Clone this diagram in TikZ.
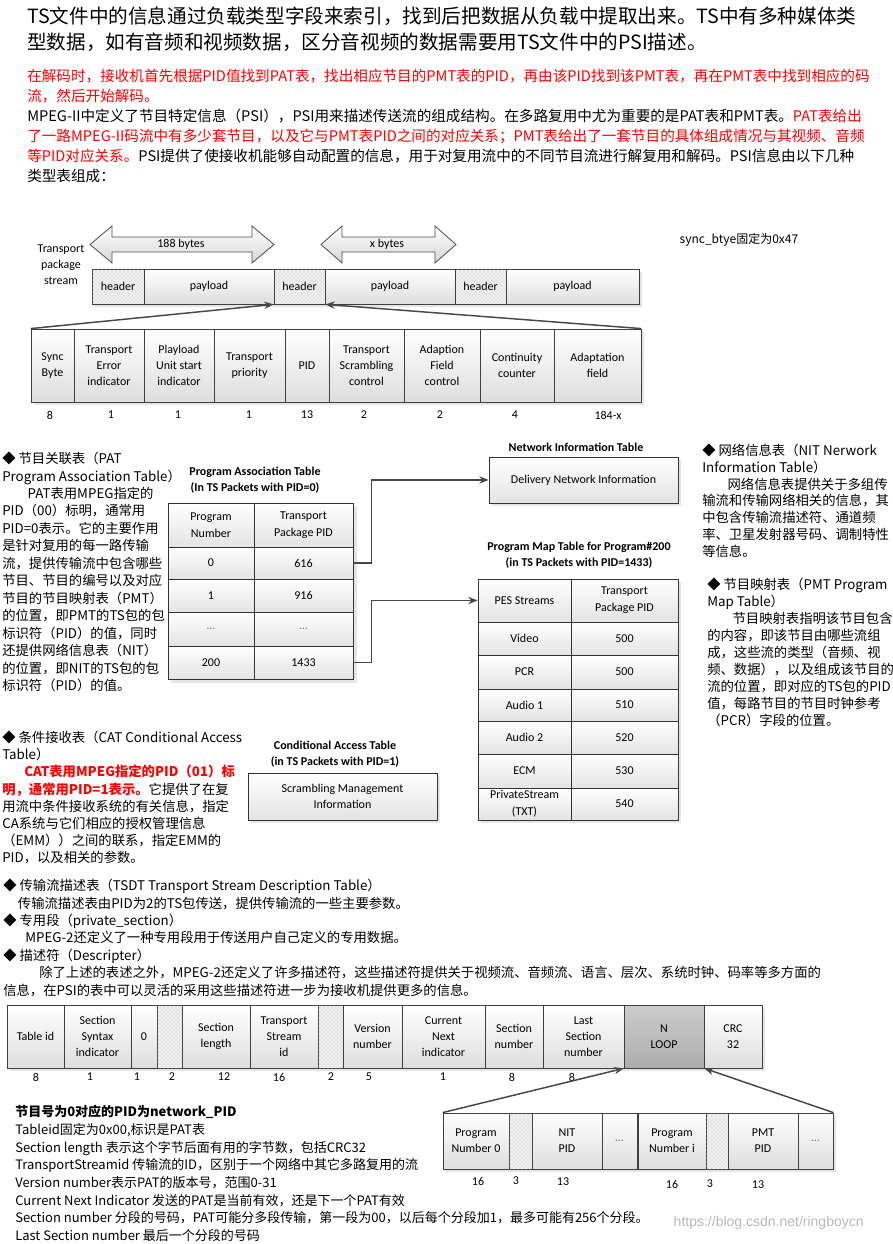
\documentclass[tikz,border=0pt]{standalone}
\usepackage{fontspec}
\setmainfont{Carlito}
\newfontfamily\cjk{Noto Sans CJK SC}
\newfontfamily\markfont{Liberation Sans}
\usetikzlibrary{arrows.meta, patterns}

\newcommand\dotsgray{\textcolor{black!50}{\ldots}}

\tikzset{
    para/.style={anchor=north west, inner sep=0pt, align=left},
    cellbox/.style={draw=black!75, line width=0.6pt, top color=white, bottom color=black!13, align=center, inner sep=1pt, font=\fontsize{9}{12}\selectfont},
    hatchbox/.style={draw=black!75, line width=0.6pt, fill=black!6, postaction={pattern=crosshatch dots, pattern color=black!28}, align=center, inner sep=1pt, font=\fontsize{9}{12}\selectfont},
    loopbox/.style={cellbox, top color=black!20, bottom color=black!32},
    tabcell/.style={draw=black!80, line width=0.6pt, top color=white, bottom color=black!11, align=center, inner sep=1pt, font=\fontsize{9}{12.5}\selectfont},
    boxtitle/.style={align=center, font=\bfseries\fontsize{9}{12}\selectfont},
    numlabel/.style={font=\fontsize{9}{11}\selectfont},
    shadowc/.style={fill=black!10},
    blockarrow/.style={draw=black!70, line width=0.6pt, top color=white, bottom color=black!16},
    linkarrow/.style={draw=black!72, line width=1.1pt, -{Stealth[length=7pt,width=5.5pt]}}
}

\begin{document}
\begin{tikzpicture}[x=0.75pt, y=-0.75pt]
\useasboundingbox (0,0) rectangle (892,1244);

% intro text
\node[para, font=\cjk\fontsize{14.7}{19.5}\selectfont] (intro) at (27,6.8) {TS文件中的信息通过负载类型字段来索引，找到后把数据从负载中提取出来。TS中有多种媒体类\\型数据，如有音频和视频数据，区分音视频的数据需要用TS文件中的PSI描述。};
\node[para, font=\cjk\fontsize{10.95}{15}\selectfont] (decode) at (27,69.2) {\textcolor{red}{在解码时，接收机首先根据PID值找到PAT表，找出相应节目的PMT表的PID，再由该PID找到该PMT表，再在PMT表中找到相应的码}\\\textcolor{red}{流，然后开始解码。}\\MPEG-II中定义了节目特定信息（PSI），PSI用来描述传送流的组成结构。在多路复用中尤为重要的是PAT表和PMT表。\textcolor{red}{PAT表给出}\\\textcolor{red}{了一路MPEG-II码流中有多少套节目，以及它与PMT表PID之间的对应关系；PMT表给出了一套节目的具体组成情况与其视频、音频}\\\textcolor{red}{等PID对应关系。}PSI提供了使接收机能够自动配置的信息，用于对复用流中的不同节目流进行解复用和解码。PSI信息由以下几种\\类型表组成：};

% transport packet stream
\node[align=center, font=\fontsize{9}{12}\selectfont] (tps) at (61,265) {Transport\\package\\stream};
\draw[blockarrow] (90,244.5) -- (112,226) -- (112,237) -- (252,237) -- (252,226) -- (274,244.5) -- (252,263) -- (252,252) -- (112,252) -- (112,263) -- cycle;
\node[numlabel] (len188) at (181,244) {188 bytes};
\draw[blockarrow] (321,244.5) -- (342,226) -- (342,237) -- (435,237) -- (435,226) -- (456,244.5) -- (435,263) -- (435,252) -- (342,252) -- (342,263) -- cycle;
\node[numlabel] (lenx) at (387,244) {x bytes};
\node[anchor=west, font=\cjk\fontsize{9}{11}\selectfont] (sync) at (675,240) {sync\_btye固定为0x47};

\fill[shadowc] (95,272) rectangle (642,307);
\foreach \xa/\xb/\nm in {92/144/h1, 274/325/h2, 455/506/h3}
    \node[hatchbox, minimum width={(\xb-\xa)*0.75pt}, minimum height=26.25pt] (\nm) at ({(\xa+\xb)/2},286.5) {header};
\foreach \xa/\xb/\nm in {144/274/p1, 325/455/p2, 506/639/p3}
    \node[cellbox, minimum width={(\xb-\xa)*0.75pt}, minimum height=26.25pt] (\nm) at ({(\xa+\xb)/2},286.5) {payload};

\fill[shadowc] (34,332) rectangle (644,405);
\foreach \xa/\xb/\txt [count=\i] in {31/74/{Sync\\Byte}, 74/144/{Transport\\Error\\indicator}, 144/214/{Playload\\Unit start\\indicator}, 214/285/{Transport\\priority}, 285/329/PID, 329/404/{Transport\\Scrambling\\control}, 404/480/{Adaption\\Field\\control}, 480/554/{Continuity\\counter}, 554/641/{Adaptation\\field}}
    \node[cellbox, minimum width={(\xb-\xa)*0.75pt}, minimum height=54.75pt] (f\i) at ({(\xa+\xb)/2},365.5) {\txt};
\foreach \x/\b [count=\i] in {50/8, 111/1, 178/1, 249/1, 307/13, 364/2, 440/2, 515/4, 608/184-x}
    \node[numlabel] (b\i) at (\x,415) {\b};
\draw[linkarrow] (f1.north west) -- (h2.south west);
\draw[linkarrow] (f9.north east) -- (h2.south east);

% PAT
\node[para, font=\cjk\fontsize{10}{13.1}\selectfont] (patdesc) at (2,451.7) {◆ 节目关联表（PAT\\Program Association Table）\\\hspace*{1.9em}PAT表用MPEG指定的\\PID（00）标明，通常用\\PID=0表示。它的主要作用\\是针对复用的每一路传输\\流，提供传输流中包含哪些\\节目、节目的编号以及对应\\节目的节目映射表（PMT）\\的位置，即PMT的TS包的包\\标识符（PID）的值，同时\\还提供网络信息表（NIT）\\的位置，即NIT的TS包的包\\标识符（PID）的值。};
\node[boxtitle] (pattitle) at (255,480) {Program Association Table\\(In TS Packets with PID=0)};
\fill[shadowc] (171,506) rectangle (357,683);
\foreach \ya/\yb/\l/\r [count=\i from 0] in {503/547/{Program\\Number}/{Transport\\Package PID}, 547/579/0/616, 579/612/1/916, 612/646/{\dotsgray}/{\dotsgray}, 646/679/200/1433}{
    \node[tabcell, minimum width=64.5pt, minimum height={(\yb-\ya)*0.75pt}] (patl\i) at (211,{(\ya+\yb)/2}) {\l};
    \node[tabcell, minimum width=74.25pt, minimum height={(\yb-\ya)*0.75pt}] (patr\i) at (303.5,{(\ya+\yb)/2}) {\r};
}

% NIT
\node[boxtitle] (nittitle) at (576,447) {Network Information Table};
\fill[shadowc] (492,460) rectangle (681,506);
\node[tabcell, minimum width=141.75pt, minimum height=34.5pt] (nit) at (583.5,480) {Delivery Network Information};
\node[para, font=\cjk\fontsize{10}{12.6}\selectfont] (nitdesc) at (702,443.7) {◆ 网络信息表（NIT Nerwork\\Information Table）\\\hspace*{1.9em}网络信息表提供关于多组传\\输流和传输网络相关的信息，其\\中包含传输流描述符、通道频\\率、卫星发射器号码、调制特性\\等信息。};

% PMT
\node[boxtitle] (pmttitle) at (579,555) {Program Map Table for Program\#200\\(in TS Packets with PID=1433)};
\fill[shadowc] (481,582) rectangle (681,823);
\foreach \ya/\yb/\l/\r [count=\i from 0] in {579/622/{PES Streams}/{Transport\\Package PID}, 622/655/Video/500, 655/689/PCR/500, 689/721/{Audio 1}/510, 721/754/{Audio 2}/520, 754/788/ECM/530, 788/820/{PrivateStream\\(TXT)}/540}{
    \node[tabcell, minimum width=69.75pt, minimum height={(\yb-\ya)*0.75pt}] (pmtl\i) at (524.5,{(\ya+\yb)/2}) {\l};
    \node[tabcell, minimum width=80.25pt, minimum height={(\yb-\ya)*0.75pt}] (pmtr\i) at (624.5,{(\ya+\yb)/2}) {\r};
}
\node[para, font=\cjk\fontsize{10}{12.7}\selectfont] (pmtdesc) at (707,577.7) {◆ 节目映射表（PMT Program\\Map Table）\\\hspace*{1.9em}节目映射表指明该节目包含\\的内容，即该节目由哪些流组\\成，这些流的类型（音频、视\\频、数据），以及组成该节目的\\流的位置，即对应的TS包的PID\\值，每路节目的节目时钟参考\\（PCR）字段的位置。};

\draw[linkarrow] (patr1.east) -- ++(18,0) |- (nit.west);
\draw[linkarrow] (patr4.east) -- ++(18,0) |- (pmtl0.west);

% CAT
\node[para, font=\cjk\fontsize{10}{12.9}\selectfont] (catdesc) at (2,730.7) {◆ 条件接收表（CAT Conditional Access\\Table）\\\hspace*{1.65em}\textcolor{red}{\bfseries CAT表用MPEG指定的PID（01）标}\\\textcolor{red}{\bfseries 明，通常用PID=1表示。}它提供了在复\\用流中条件接收系统的有关信息，指定\\CA系统与它们相应的授权管理信息\\（EMM））之间的联系，指定EMM的\\PID，以及相关的参数。};
\node[boxtitle] (cattitle) at (335,754) {Conditional Access Table\\(in TS Packets with PID=1)};
\fill[shadowc] (251,776) rectangle (440,823);
\node[tabcell, minimum width=141.75pt, minimum height=35.25pt] (cat) at (342.5,796.5) {Scrambling Management\\Information};

% other tables
\node[para, font=\cjk\fontsize{10}{13.1}\selectfont] (othdesc) at (3,878.7) {◆ 传输流描述表（TSDT Transport Stream Description Table）\\\hspace*{1.1em}传输流描述表由PID为2的TS包传送，提供传输流的一些主要参数。\\◆ 专用段（private\_section）\\\hspace*{1.65em}MPEG-2还定义了一种专用段用于传送用户自己定义的专用数据。\\◆ 描述符（Descripter）\\\hspace*{2.7em}除了上述的表述之外，MPEG-2还定义了许多描述符，这些描述符提供关于视频流、音频流、语言、层次、系统时钟、码率等多方面的\\信息，在PSI的表中可以灵活的采用这些描述符进一步为接收机提供更多的信息。};

% PAT section layout
\fill[shadowc] (10,1008) rectangle (765,1071);
\foreach \xa/\xb/\txt/\nm in {7/64/{Table id}/tid, 64/131/{Section\\Syntax\\indicator}/ssi, 131/157/0/zero, 182/250/{Section\\length}/slen, 250/318/{Transport\\Stream\\id}/tsid, 343/402/{Version\\number}/ver, 402/485/{Current\\Next\\indicator}/cni, 485/543/{Section\\number}/snum, 543/624/{Last\\Section\\number}/lsn, 704/762/{CRC\\32}/crc}
    \node[cellbox, minimum width={(\xb-\xa)*0.75pt}, minimum height=47.25pt] (\nm) at ({(\xa+\xb)/2},1036.5) {\txt};
\foreach \xa/\xb/\nm in {157/182/rsa, 318/343/rsb}
    \node[hatchbox, minimum width={(\xb-\xa)*0.75pt}, minimum height=47.25pt] (\nm) at ({(\xa+\xb)/2},1036.5) {};
\node[loopbox, minimum width=60pt, minimum height=47.25pt] (nloop) at (664,1036.5) {N\\LOOP};
\foreach \x/\b [count=\i] in {36/8, 90/1, 137/1, 172/2, 224/12, 279/16, 331/2, 369/5, 443/1, 512/8, 572/8}
    \node[numlabel] (c\i) at (\x,1077) {\b};

\fill[shadowc] (446,1116) rectangle (836,1172);
\foreach \xa/\xb/\txt/\nm in {443/509/{Program\\Number 0}/pn0, 532/602/{NIT\\PID}/nitpid, 602/637/{\dotsgray}/more0, 638/706/{Program\\Number i}/pni, 728/798/{PMT\\PID}/pmtpid, 798/833/{\dotsgray}/more1}
    \node[cellbox, minimum width={(\xb-\xa)*0.75pt}, minimum height=42pt] (\nm) at ({(\xa+\xb)/2},1141) {\txt};
\foreach \xa/\xb/\nm in {509/532/rsc, 706/728/rsd}
    \node[hatchbox, minimum width={(\xb-\xa)*0.75pt}, minimum height=42pt] (\nm) at ({(\xa+\xb)/2},1141) {};
\foreach \x/\y/\b [count=\i] in {478/1181/16, 516/1181/3, 563/1182/13, 672/1184/16, 710/1184/3, 758/1185/13}
    \node[numlabel] (d\i) at (\x,\y) {\b};
\draw[linkarrow] (pn0.north west) -- (nloop.south west);
\draw[linkarrow] (more1.north east) -- (nloop.south east);

\node[para, font=\cjk\fontsize{9.75}{13.3}\selectfont] (fields) at (15,1105) {{\bfseries 节目号为0对应的PID为network\_PID}\\Tableid固定为0x00,标识是PAT表\\Section length 表示这个字节后面有用的字节数，包括CRC32\\TransportStreamid 传输流的ID，区别于一个网络中其它多路复用的流\\Version number表示PAT的版本号，范围0-31\\Current Next Indicator 发送的PAT是当前有效，还是下一个PAT有效\\Section number 分段的号码，PAT可能分多段传输，第一段为00，以后每个分段加1，最多可能有256个分段。\\Last Section number 最后一个分段的号码};
\node[anchor=west, text=black!28, font=\markfont\fontsize{10.5}{12}\selectfont] (mark) at (669,1223) {https://blog.csdn.net/ringboycn};
\end{tikzpicture}
\end{document}
